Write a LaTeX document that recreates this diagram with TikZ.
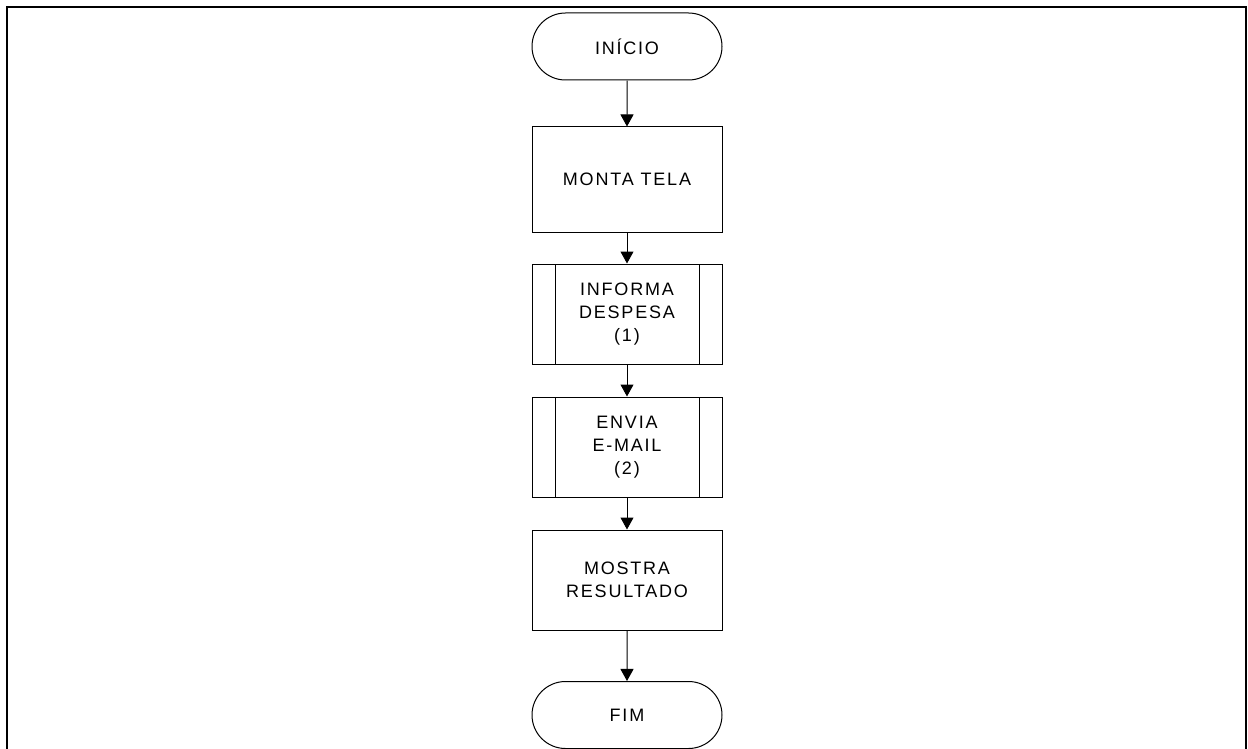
\documentclass[tikz,border=0pt]{standalone}
\usepackage{fontspec}
\setmainfont{Liberation Sans}[LetterSpace=10]
\usetikzlibrary{arrows.meta,shapes.misc}

\begin{document}
\begin{tikzpicture}[x=0.5pt, y=-0.5pt, >={Triangle[width=6.5pt,length=6pt]}]
    \useasboundingbox (0,0) rectangle (1248,749);
    \draw[line width=1pt] (7,749) -- (7,7) -- (1246,7) -- (1246,749);
    {
        \tikzset{every node/.style = {draw, line width=0.5pt, align=center, font=\fontsize{9pt}{11.5pt}\selectfont, inner sep=0pt}}
        \tikzset{terminal/.style = {rounded rectangle, minimum width=95pt, minimum height=33.5pt}}
        \tikzset{action/.style = {rectangle, minimum width=95pt, minimum height=52.5pt}}
        \tikzset{subproc/.style = {action, minimum height=50pt,
            path picture={
                \draw ([xshift=11.5pt]path picture bounding box.north west) -- ([xshift=11.5pt]path picture bounding box.south west);
                \draw ([xshift=-11.5pt]path picture bounding box.north east) -- ([xshift=-11.5pt]path picture bounding box.south east);
            }}}

        \node[terminal] (inicio) at (627, 46.5) {INÍCIO};
        \node[action] (monta) at (627, 179.5) {MONTA TELA};
        \node[subproc] (informa) at (627, 314) {INFORMA\\DESPESA\\(1)};
        \node[subproc] (envia) at (627, 447) {ENVIA\\E-MAIL\\(2)};
        \node[action, minimum height=50pt] (mostra) at (627, 580) {MOSTRA\\RESULTADO};
        \node[terminal] (fim) at (627, 715) {FIM};
    }

        \draw[line width=0.5pt] (inicio) edge[->] (monta);
        \draw[line width=0.5pt] (monta) edge[->] (informa);
        \draw[line width=0.5pt] (informa) edge[->] (envia);
        \draw[line width=0.5pt] (envia) edge[->] (mostra);
        \draw[line width=0.5pt] (mostra) edge[->] (fim);

\end{tikzpicture}
\end{document}
